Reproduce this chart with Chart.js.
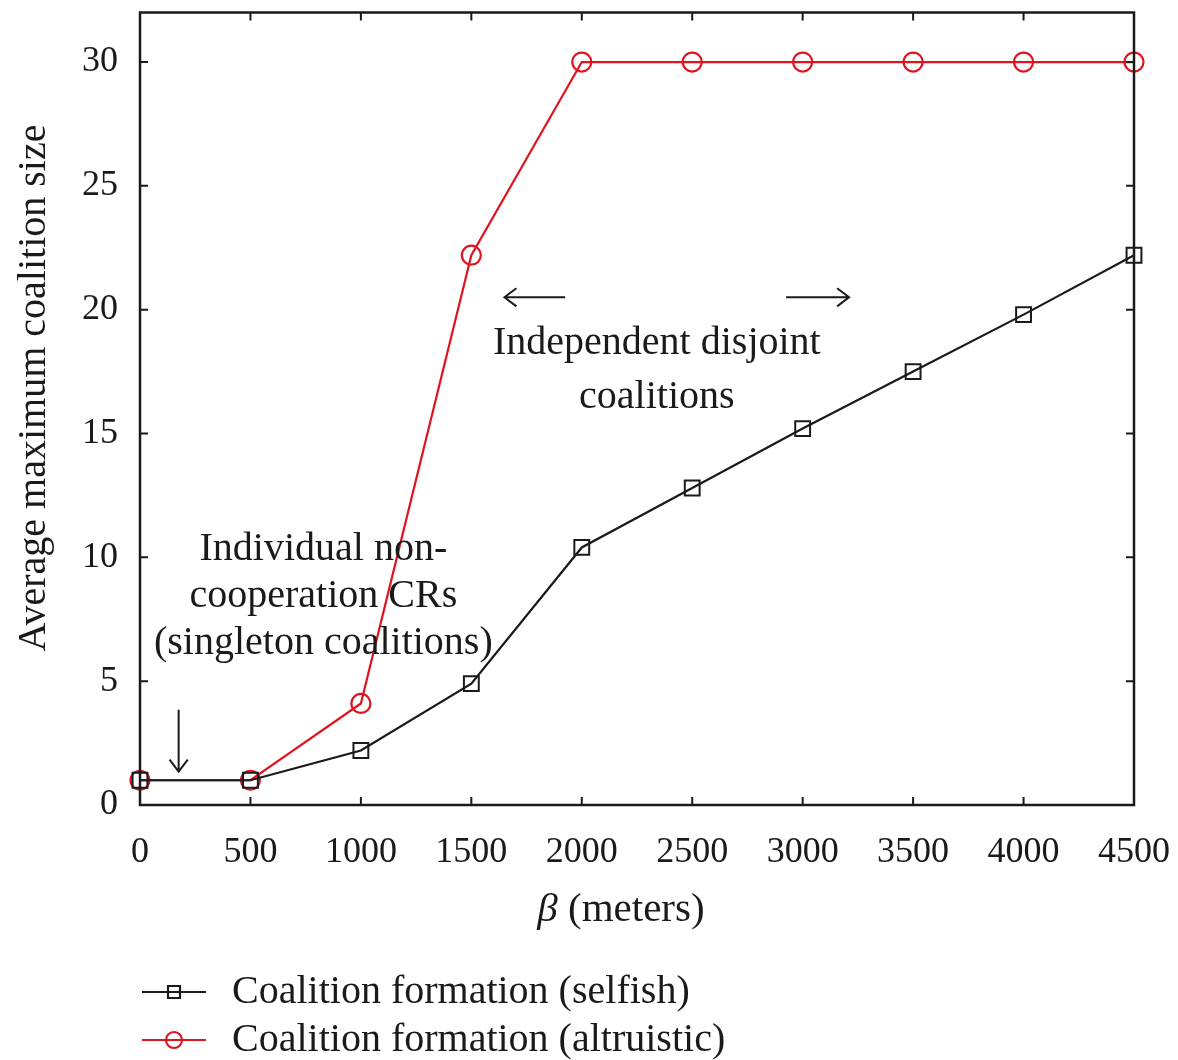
<!DOCTYPE html>
<html>
<head>
<meta charset="utf-8">
<script src="https://cdn.jsdelivr.net/npm/chart.js@4.4.1/dist/chart.umd.min.js"></script>
<style>
  html, body { margin: 0; padding: 0; background: #fff; }
  #wrap { width: 1178px; height: 1060px; }
</style>
</head>
<body>
<div id="wrap"><canvas id="c" width="1178" height="1060"></canvas></div>
<script>
const betaValues = [0, 500, 1000, 1500, 2000, 2500, 3000, 3500, 4000, 4500];
const selfishSize = [1, 1, 2.2, 4.9, 10.4, 12.8, 15.2, 17.5, 19.8, 22.2];
const altruisticSize = [1, 1, 4.1, 22.2, 30, 30, 30, 30, 30, 30];
const xTicks = [0, 500, 1000, 1500, 2000, 2500, 3000, 3500, 4000, 4500];
const yTicks = [0, 5, 10, 15, 20, 25, 30];
const seriesNames = ['Coalition formation (selfish)', 'Coalition formation (altruistic)'];

const SERIF = '"Liberation Serif", "DejaVu Serif", serif';
const INK = '#1a1a1a';
const RED = '#e0141e';

const toPoints = ys => betaValues.map((x, i) => ({ x, y: ys[i] }));

// inward ticks on all four sides, the frame, axis titles, notes with arrows, and the legend
const decor = {
  id: 'decor',
  afterDatasetsDraw(chart) {
    const { ctx, chartArea: a, scales: { x, y } } = chart;
    ctx.save();
    ctx.strokeStyle = INK;
    ctx.lineWidth = 2;
    const t = 8;
    xTicks.forEach(v => {
      const px = x.getPixelForValue(v);
      ctx.beginPath();
      ctx.moveTo(px, a.bottom); ctx.lineTo(px, a.bottom - t);
      ctx.moveTo(px, a.top); ctx.lineTo(px, a.top + t);
      ctx.stroke();
    });
    yTicks.forEach(v => {
      const py = y.getPixelForValue(v);
      ctx.beginPath();
      ctx.moveTo(a.left, py); ctx.lineTo(a.left + t, py);
      ctx.moveTo(a.right, py); ctx.lineTo(a.right - t, py);
      ctx.stroke();
    });
    ctx.lineWidth = 2.5;
    ctx.strokeRect(a.left, a.top, a.right - a.left, a.bottom - a.top);

    ctx.fillStyle = INK;
    ctx.textBaseline = 'middle';

    // axis titles
    ctx.save();
    ctx.translate(34, 388);
    ctx.rotate(-Math.PI / 2);
    ctx.textAlign = 'center';
    ctx.font = '40px ' + SERIF;
    ctx.fillText('Average maximum coalition size', 0, 0);
    ctx.restore();

    ctx.textAlign = 'left';
    ctx.font = 'italic 41px ' + SERIF;
    const beta = 'β';
    ctx.font = '41px ' + SERIF;
    const rest = ' (meters)';
    const wRest = ctx.measureText(rest).width;
    ctx.font = 'italic 41px ' + SERIF;
    const wBeta = ctx.measureText(beta).width;
    const x0 = 621 - (wBeta + wRest) / 2;
    ctx.fillText(beta, x0, 910);
    ctx.font = '41px ' + SERIF;
    ctx.fillText(rest, x0 + wBeta, 910);

    // annotations (data coordinates)
    ctx.font = '40px ' + SERIF;
    ctx.textAlign = 'center';
    const note = (lines, dx, dy, step) => lines.forEach((s, i) =>
      ctx.fillText(s, x.getPixelForValue(dx), y.getPixelForValue(dy) + i * step));
    note(['Individual non-', 'cooperation CRs', '(singleton coalitions)'], 830, 10.3, 47);
    note(['Independent disjoint', 'coalitions'], 2340, 18.65, 54);

    ctx.lineWidth = 2;
    const arrow = (x0, y0, x1, y1) => {
      const p0 = [x.getPixelForValue(x0), y.getPixelForValue(y0)];
      const p1 = [x.getPixelForValue(x1), y.getPixelForValue(y1)];
      const ang = Math.atan2(p1[1] - p0[1], p1[0] - p0[0]);
      const h = 15;
      ctx.beginPath();
      ctx.moveTo(p0[0], p0[1]); ctx.lineTo(p1[0], p1[1]);
      ctx.moveTo(p1[0] - h * Math.cos(ang - 0.65), p1[1] - h * Math.sin(ang - 0.65));
      ctx.lineTo(p1[0], p1[1]);
      ctx.lineTo(p1[0] - h * Math.cos(ang + 0.65), p1[1] - h * Math.sin(ang + 0.65));
      ctx.stroke();
    };
    arrow(175, 3.85, 175, 1.35);
    arrow(1925, 20.5, 1650, 20.5);
    arrow(2925, 20.5, 3210, 20.5);

    // legend below the axis title
    const rows = [
      { name: seriesNames[0], color: INK, style: 'rect', yPx: 992 },
      { name: seriesNames[1], color: RED, style: 'circle', yPx: 1040 }
    ];
    ctx.textAlign = 'left';
    rows.forEach(r => {
      ctx.strokeStyle = r.color;
      ctx.lineWidth = 2.2;
      ctx.beginPath();
      ctx.moveTo(142, r.yPx); ctx.lineTo(206, r.yPx);
      ctx.stroke();
      ctx.beginPath();
      if (r.style === 'rect') ctx.rect(168, r.yPx - 6, 12, 12);
      else ctx.arc(174, r.yPx, 8, 0, Math.PI * 2);
      ctx.stroke();
      ctx.fillStyle = INK;
      ctx.fillText(r.name, 232, r.yPx);
    });
    ctx.restore();
  }
};

new Chart(document.getElementById('c'), {
  type: 'line',
  data: {
    datasets: [
      {
        label: seriesNames[0], data: toPoints(selfishSize),
        borderColor: INK, borderWidth: 2.2,
        pointStyle: 'rect', pointRadius: 10.5, pointBorderWidth: 2,
        pointBorderColor: INK, pointBackgroundColor: 'rgba(0,0,0,0)', clip: false
      },
      {
        label: seriesNames[1], data: toPoints(altruisticSize),
        borderColor: RED, borderWidth: 2.2,
        pointStyle: 'circle', pointRadius: 9.5, pointBorderWidth: 2.2,
        pointBorderColor: RED, pointBackgroundColor: 'rgba(0,0,0,0)', clip: false
      }
    ]
  },
  options: {
    responsive: false,
    animation: false,
    layout: { padding: { left: 0, right: 44, top: 12, bottom: 0 } },
    plugins: { legend: { display: false }, tooltip: { enabled: false } },
    scales: {
      x: {
        type: 'linear', min: 0, max: 4500,
        afterBuildTicks: s => { s.ticks = xTicks.map(v => ({ value: v })); },
        afterFit: s => { s.height = 255; s.paddingLeft = 0; s.paddingRight = 0; },
        grid: { display: false, drawTicks: false },
        border: { display: false },
        ticks: {
          color: INK, padding: 26, maxRotation: 0, autoSkip: false,
          font: { family: SERIF, size: 36 }, callback: v => String(v)
        }
      },
      y: {
        min: 0, max: 32,
        afterBuildTicks: s => { s.ticks = yTicks.map(v => ({ value: v })); },
        afterFit: s => { s.width = 140; s.paddingTop = 0; s.paddingBottom = 0; },
        grid: { display: false, drawTicks: false },
        border: { display: false },
        ticks: { color: INK, padding: 22, font: { family: SERIF, size: 36 }, callback: v => String(v) }
      }
    }
  },
  plugins: [decor]
});
</script>
</body>
</html>
